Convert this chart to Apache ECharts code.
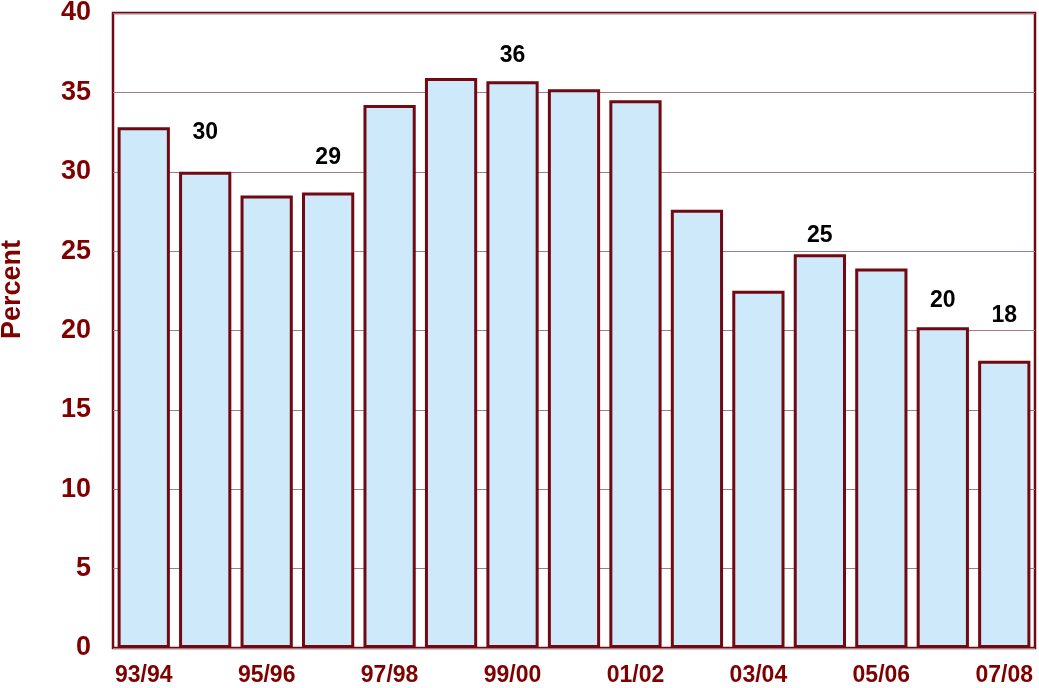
<!DOCTYPE html>
<html><head><meta charset="utf-8">
<script src="https://cdn.jsdelivr.net/npm/echarts@6/dist/echarts.min.js"></script>
<style>html,body{margin:0;padding:0;background:#fff}#c{width:1039px;height:688px}</style>
</head><body><div id="c"></div>
<script>
const categories = ['93/94','94/95','95/96','96/97','97/98','98/99','99/00','00/01','01/02','02/03','03/04','04/05','05/06','06/07','07/08'];
const values = [32.8, 30.0, 28.5, 28.7, 34.2, 35.9, 35.7, 35.2, 34.5, 27.6, 22.5, 24.8, 23.9, 20.2, 18.1];
const labelTexts = ['', '30', '', '29', '', '', '36', '', '', '', '', '25', '', '20', '18'];
const labelDistances = [0, 28, 0, 23, 0, 0, 14, 0, 0, 0, 0, 7, 0, 15, 34];
const yTicks = [0, 5, 10, 15, 20, 25, 30, 35, 40];

const dark = '#800000';
const edge = '#720812';
const font = '"Liberation Sans", Arial, sans-serif';
const chart = echarts.init(document.getElementById('c'), null, {renderer: 'canvas'});
chart.setOption({
  animation: false,
  backgroundColor: '#fff',
  grid: {left: 113, right: 4, top: 13, bottom: 40, outerBoundsMode: 'none', containLabel: false,
         show: true, borderColor: edge, borderWidth: 2.5, backgroundColor: 'transparent'},
  xAxis: {
    type: 'category', data: categories,
    axisLine: {show: false}, axisTick: {show: false},
    axisLabel: {interval: 1, color: dark, fontFamily: font, fontWeight: 'bold', fontSize: 23, margin: 16}
  },
  yAxis: {
    type: 'value', min: yTicks[0], max: yTicks[yTicks.length - 1], interval: 5,
    name: 'Percent', nameLocation: 'middle', nameRotate: 90, nameGap: 87,
    nameTextStyle: {color: dark, fontFamily: font, fontWeight: 'bold', fontSize: 27, padding: [0, 0, 0, 82]},
    axisLine: {show: false}, axisTick: {show: false},
    axisLabel: {color: dark, fontFamily: font, fontWeight: 'bold', fontSize: 27, margin: 22},
    splitLine: {show: true, lineStyle: {color: '#9c7e84', width: 1}}
  },
  series: [{
    type: 'bar', barCategoryGap: '15%',
    data: values.map((v, i) => ({
      value: v,
      label: {show: labelTexts[i] !== '', distance: labelDistances[i]}
    })),
    itemStyle: {color: '#cde9fa', borderColor: edge, borderWidth: 3},
    label: {
      position: 'top', color: '#000', fontFamily: font, fontWeight: 'bold', fontSize: 23,
      formatter: p => labelTexts[p.dataIndex]
    }
  }]
});
</script></body></html>
